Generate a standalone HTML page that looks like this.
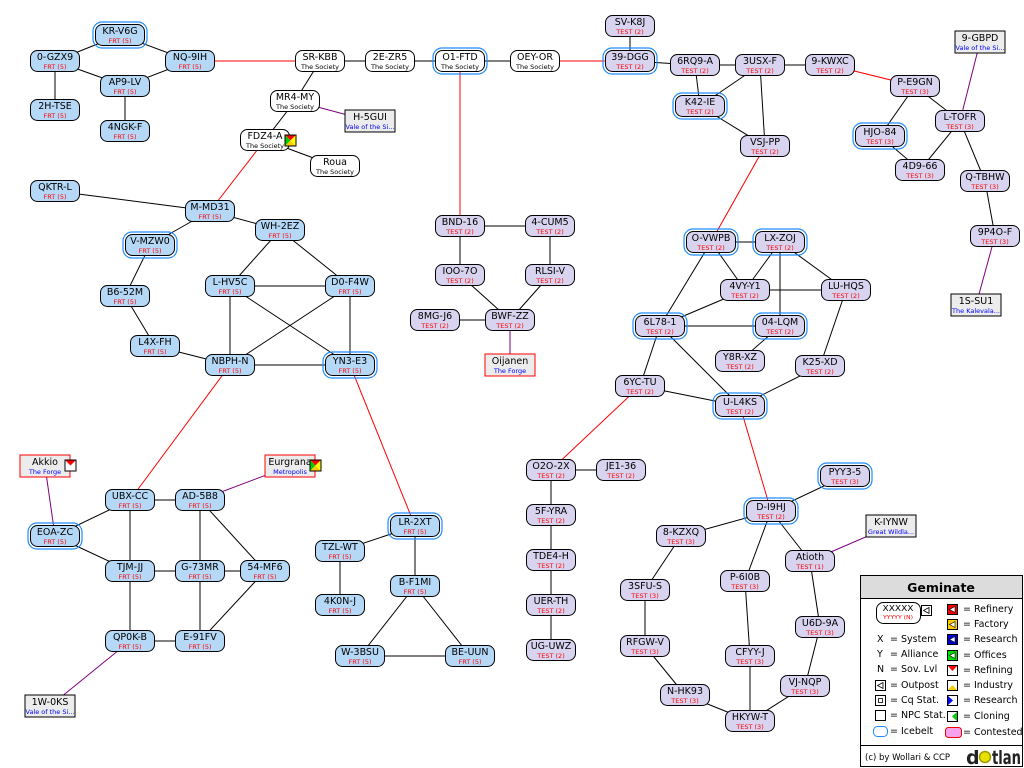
<!DOCTYPE html>
<html><head><meta charset="utf-8"><style>
html,body{margin:0;padding:0;background:#fff;width:1024px;height:768px;overflow:hidden}
svg{display:block;font-family:"DejaVu Sans","Liberation Sans",sans-serif}
.e line{stroke:#000;stroke-width:1}
.r line{stroke:#f00;stroke-width:1}
.p line{stroke:#800080;stroke-width:1}
.n rect.b{x:-24.5px;y:-10.5px;width:49px;height:21px;rx:7px;stroke:#000;stroke-width:1}
.n rect.i{x:-27px;y:-13px;width:54px;height:26px;rx:9px;fill:none;stroke:#1e8cff;stroke-width:1.2}
.f rect.b{fill:#b5d8f7}
.t rect.b{fill:#d8d3ef}
.w rect.b{fill:#fff}
.n text{text-anchor:middle;font-size:9.5px;fill:#000}
.n text.s{font-size:6.5px;fill:#f00}
.w text.s{fill:#000}
.x rect{x:-25px;y:-11px;width:50px;height:22px;fill:#ececec;stroke:#000;stroke-width:1}
.x.rd rect{stroke:#f00}
.x text{text-anchor:middle;font-size:9.5px;fill:#000}
.x text.s{font-size:6.5px;fill:#00f}
.lg text{font-size:9.5px;fill:#000}
</style></head><body>
<svg width="1024" height="768" viewBox="0 0 1024 768" xmlns="http://www.w3.org/2000/svg">
<g class="e">
<line x1="120" y1="35" x2="55" y2="61"/><line x1="120" y1="35" x2="190" y2="61"/>
<line x1="55" y1="61" x2="125" y2="86"/><line x1="190" y1="61" x2="125" y2="86"/>
<line x1="55" y1="61" x2="55" y2="110"/><line x1="125" y1="86" x2="125" y2="131"/>
<line x1="320" y1="61" x2="390" y2="61"/><line x1="390" y1="61" x2="460" y2="61"/><line x1="460" y1="61" x2="535" y2="61"/>
<line x1="320" y1="61" x2="295" y2="101"/><line x1="295" y1="101" x2="265" y2="140"/><line x1="265" y1="140" x2="335" y2="166"/>
<line x1="55" y1="191" x2="210" y2="211"/><line x1="210" y1="211" x2="150" y2="245"/><line x1="210" y1="211" x2="280" y2="230"/>
<line x1="280" y1="230" x2="230" y2="286"/><line x1="280" y1="230" x2="350" y2="286"/>
<line x1="150" y1="245" x2="125" y2="296"/><line x1="125" y1="296" x2="155" y2="346"/><line x1="155" y1="346" x2="230" y2="365"/>
<line x1="230" y1="286" x2="350" y2="286"/><line x1="230" y1="286" x2="230" y2="365"/><line x1="230" y1="286" x2="350" y2="365"/>
<line x1="350" y1="286" x2="230" y2="365"/><line x1="350" y1="286" x2="350" y2="365"/><line x1="230" y1="365" x2="350" y2="365"/>
<line x1="130" y1="500" x2="200" y2="500"/><line x1="130" y1="500" x2="55" y2="536"/><line x1="55" y1="536" x2="130" y2="571"/>
<line x1="130" y1="500" x2="130" y2="571"/><line x1="200" y1="500" x2="200" y2="571"/><line x1="200" y1="500" x2="265" y2="571"/>
<line x1="130" y1="571" x2="200" y2="571"/><line x1="200" y1="571" x2="265" y2="571"/><line x1="130" y1="571" x2="130" y2="641"/>
<line x1="200" y1="571" x2="200" y2="641"/><line x1="130" y1="641" x2="200" y2="641"/><line x1="265" y1="571" x2="200" y2="641"/>
<line x1="415" y1="526" x2="340" y2="551"/><line x1="415" y1="526" x2="415" y2="586"/><line x1="340" y1="551" x2="340" y2="605"/>
<line x1="415" y1="586" x2="360" y2="656"/><line x1="415" y1="586" x2="470" y2="656"/><line x1="360" y1="656" x2="470" y2="656"/>
<line x1="460" y1="226" x2="550" y2="226"/><line x1="460" y1="226" x2="460" y2="275"/><line x1="550" y1="226" x2="550" y2="275"/>
<line x1="460" y1="275" x2="510" y2="320"/><line x1="550" y1="275" x2="510" y2="320"/><line x1="435" y1="320" x2="510" y2="320"/>
<line x1="630" y1="26" x2="630" y2="61"/><line x1="630" y1="61" x2="695" y2="65"/><line x1="695" y1="65" x2="760" y2="65"/>
<line x1="760" y1="65" x2="830" y2="65"/><line x1="695" y1="65" x2="700" y2="106"/><line x1="760" y1="65" x2="700" y2="106"/>
<line x1="760" y1="65" x2="765" y2="146"/><line x1="700" y1="106" x2="765" y2="146"/>
<line x1="915" y1="86" x2="960" y2="121"/><line x1="915" y1="86" x2="880" y2="136"/><line x1="880" y1="136" x2="920" y2="170"/>
<line x1="960" y1="121" x2="920" y2="170"/><line x1="960" y1="121" x2="985" y2="181"/><line x1="985" y1="181" x2="995" y2="236"/>
<line x1="711" y1="242" x2="780" y2="242"/><line x1="711" y1="242" x2="745" y2="290"/><line x1="711" y1="242" x2="660" y2="326"/>
<line x1="780" y1="242" x2="745" y2="290"/><line x1="780" y1="242" x2="780" y2="326"/><line x1="780" y1="242" x2="846" y2="290"/>
<line x1="745" y1="290" x2="846" y2="290"/><line x1="745" y1="290" x2="660" y2="326"/><line x1="660" y1="326" x2="780" y2="326"/>
<line x1="780" y1="326" x2="740" y2="361"/><line x1="846" y1="290" x2="820" y2="366"/><line x1="820" y1="366" x2="740" y2="406"/>
<line x1="660" y1="326" x2="640" y2="386"/><line x1="660" y1="326" x2="740" y2="406"/><line x1="640" y1="386" x2="740" y2="406"/>
<line x1="551" y1="470" x2="621" y2="470"/><line x1="551" y1="470" x2="551" y2="650"/>
<line x1="771" y1="511" x2="845" y2="476"/><line x1="771" y1="511" x2="681" y2="536"/><line x1="771" y1="511" x2="745" y2="581"/>
<line x1="771" y1="511" x2="810" y2="561"/><line x1="681" y1="536" x2="645" y2="590"/><line x1="645" y1="590" x2="645" y2="646"/>
<line x1="645" y1="646" x2="685" y2="695"/><line x1="685" y1="695" x2="750" y2="721"/><line x1="745" y1="581" x2="750" y2="656"/>
<line x1="750" y1="656" x2="750" y2="721"/><line x1="810" y1="561" x2="820" y2="627"/><line x1="820" y1="627" x2="805" y2="686"/>
<line x1="805" y1="686" x2="750" y2="721"/>
</g>
<g class="r">
<line x1="190" y1="61" x2="320" y2="61"/><line x1="535" y1="61" x2="630" y2="61"/><line x1="460" y1="61" x2="460" y2="226"/>
<line x1="830" y1="65" x2="915" y2="86"/><line x1="765" y1="146" x2="711" y2="242"/><line x1="265" y1="140" x2="210" y2="211"/>
<line x1="230" y1="365" x2="130" y2="500"/><line x1="350" y1="365" x2="415" y2="526"/><line x1="640" y1="386" x2="551" y2="470"/>
<line x1="740" y1="406" x2="771" y2="511"/>
</g>
<g class="p">
<line x1="295" y1="101" x2="370" y2="121"/><line x1="510" y1="320" x2="510" y2="365"/><line x1="45" y1="466" x2="55" y2="536"/>
<line x1="290" y1="466" x2="200" y2="500"/><line x1="130" y1="641" x2="50" y2="706"/><line x1="960" y1="121" x2="980" y2="42"/>
<line x1="995" y1="236" x2="976" y2="305"/><line x1="810" y1="561" x2="891" y2="526"/>
</g>

<g class="n f" transform="translate(120,35)"><rect class="i"/><rect class="b"/><text y="-1">KR-V6G</text><text class="s" y="8">FRT (5)</text></g>
<g class="n f" transform="translate(55,61)"><rect class="b"/><text y="-1">0-GZX9</text><text class="s" y="8">FRT (5)</text></g>
<g class="n f" transform="translate(190,61)"><rect class="b"/><text y="-1">NQ-9IH</text><text class="s" y="8">FRT (5)</text></g>
<g class="n f" transform="translate(125,86)"><rect class="b"/><text y="-1">AP9-LV</text><text class="s" y="8">FRT (5)</text></g>
<g class="n f" transform="translate(55,110)"><rect class="b"/><text y="-1">2H-TSE</text><text class="s" y="8">FRT (5)</text></g>
<g class="n f" transform="translate(125,131)"><rect class="b"/><text y="-1">4NGK-F</text><text class="s" y="8">FRT (5)</text></g>
<g class="n f" transform="translate(55,191)"><rect class="b"/><text y="-1">QKTR-L</text><text class="s" y="8">FRT (5)</text></g>
<g class="n f" transform="translate(210,211)"><rect class="b"/><text y="-1">M-MD31</text><text class="s" y="8">FRT (5)</text></g>
<g class="n f" transform="translate(280,230)"><rect class="b"/><text y="-1">WH-2EZ</text><text class="s" y="8">FRT (5)</text></g>
<g class="n f" transform="translate(150,245)"><rect class="i"/><rect class="b"/><text y="-1">V-MZW0</text><text class="s" y="8">FRT (5)</text></g>
<g class="n f" transform="translate(125,296)"><rect class="b"/><text y="-1">B6-52M</text><text class="s" y="8">FRT (5)</text></g>
<g class="n f" transform="translate(230,286)"><rect class="b"/><text y="-1">L-HV5C</text><text class="s" y="8">FRT (5)</text></g>
<g class="n f" transform="translate(350,286)"><rect class="b"/><text y="-1">D0-F4W</text><text class="s" y="8">FRT (5)</text></g>
<g class="n f" transform="translate(155,346)"><rect class="b"/><text y="-1">L4X-FH</text><text class="s" y="8">FRT (5)</text></g>
<g class="n f" transform="translate(230,365)"><rect class="b"/><text y="-1">NBPH-N</text><text class="s" y="8">FRT (5)</text></g>
<g class="n f" transform="translate(350,365)"><rect class="i"/><rect class="b"/><text y="-1">YN3-E3</text><text class="s" y="8">FRT (5)</text></g>
<g class="n f" transform="translate(130,500)"><rect class="b"/><text y="-1">UBX-CC</text><text class="s" y="8">FRT (5)</text></g>
<g class="n f" transform="translate(200,500)"><rect class="b"/><text y="-1">AD-5B8</text><text class="s" y="8">FRT (5)</text></g>
<g class="n f" transform="translate(55,536)"><rect class="i"/><rect class="b"/><text y="-1">EOA-ZC</text><text class="s" y="8">FRT (5)</text></g>
<g class="n f" transform="translate(130,571)"><rect class="b"/><text y="-1">TJM-JJ</text><text class="s" y="8">FRT (5)</text></g>
<g class="n f" transform="translate(200,571)"><rect class="b"/><text y="-1">G-73MR</text><text class="s" y="8">FRT (5)</text></g>
<g class="n f" transform="translate(265,571)"><rect class="b"/><text y="-1">54-MF6</text><text class="s" y="8">FRT (5)</text></g>
<g class="n f" transform="translate(130,641)"><rect class="b"/><text y="-1">QP0K-B</text><text class="s" y="8">FRT (5)</text></g>
<g class="n f" transform="translate(200,641)"><rect class="b"/><text y="-1">E-91FV</text><text class="s" y="8">FRT (5)</text></g>
<g class="n f" transform="translate(415,526)"><rect class="i"/><rect class="b"/><text y="-1">LR-2XT</text><text class="s" y="8">FRT (5)</text></g>
<g class="n f" transform="translate(340,551)"><rect class="b"/><text y="-1">TZL-WT</text><text class="s" y="8">FRT (5)</text></g>
<g class="n f" transform="translate(340,605)"><rect class="b"/><text y="-1">4K0N-J</text><text class="s" y="8">FRT (5)</text></g>
<g class="n f" transform="translate(415,586)"><rect class="b"/><text y="-1">B-F1MI</text><text class="s" y="8">FRT (5)</text></g>
<g class="n f" transform="translate(360,656)"><rect class="b"/><text y="-1">W-3BSU</text><text class="s" y="8">FRT (5)</text></g>
<g class="n f" transform="translate(470,656)"><rect class="b"/><text y="-1">BE-UUN</text><text class="s" y="8">FRT (5)</text></g>

<g class="n w" transform="translate(320,61)"><rect class="b"/><text y="-1">SR-KBB</text><text class="s" y="8">The Society</text></g>
<g class="n w" transform="translate(390,61)"><rect class="b"/><text y="-1">2E-ZR5</text><text class="s" y="8">The Society</text></g>
<g class="n w" transform="translate(460,61)"><rect class="i"/><rect class="b"/><text y="-1">O1-FTD</text><text class="s" y="8">The Society</text></g>
<g class="n w" transform="translate(535,61)"><rect class="b"/><text y="-1">OEY-OR</text><text class="s" y="8">The Society</text></g>
<g class="n w" transform="translate(295,101)"><rect class="b"/><text y="-1">MR4-MY</text><text class="s" y="8">The Society</text></g>
<g class="n w" transform="translate(265,140)"><rect class="b"/><text y="-1">FDZ4-A</text><text class="s" y="8">The Society</text></g>
<g class="n w" transform="translate(335,166)"><rect class="b"/><text y="-1">Roua</text><text class="s" y="8">The Society</text></g>
<g transform="translate(285,135)"><rect x="0" y="0" width="11" height="11" fill="#fff" stroke="#000"/><polygon points="0.5,0.5 10.5,0.5 5.5,5.5" fill="#f00"/><polygon points="0.5,0.5 5.5,5.5 0.5,10.5" fill="#0c0"/><polygon points="0.5,10.5 10.5,10.5 5.5,5.5" fill="#fc0"/><polygon points="10.5,0.5 10.5,10.5 5.5,5.5" fill="#ff0"/></g>

<g class="n t" transform="translate(630,26)"><rect class="b"/><text y="-1">SV-K8J</text><text class="s" y="8">TEST (2)</text></g>
<g class="n t" transform="translate(630,61)"><rect class="i"/><rect class="b"/><text y="-1">39-DGG</text><text class="s" y="8">TEST (2)</text></g>
<g class="n t" transform="translate(695,65)"><rect class="b"/><text y="-1">6RQ9-A</text><text class="s" y="8">TEST (2)</text></g>
<g class="n t" transform="translate(760,65)"><rect class="b"/><text y="-1">3USX-F</text><text class="s" y="8">TEST (2)</text></g>
<g class="n t" transform="translate(830,65)"><rect class="b"/><text y="-1">9-KWXC</text><text class="s" y="8">TEST (2)</text></g>
<g class="n t" transform="translate(700,106)"><rect class="i"/><rect class="b"/><text y="-1">K42-IE</text><text class="s" y="8">TEST (2)</text></g>
<g class="n t" transform="translate(765,146)"><rect class="b"/><text y="-1">VSJ-PP</text><text class="s" y="8">TEST (2)</text></g>
<g class="n t" transform="translate(915,86)"><rect class="b"/><text y="-1">P-E9GN</text><text class="s" y="8">TEST (3)</text></g>
<g class="n t" transform="translate(960,121)"><rect class="b"/><text y="-1">L-TOFR</text><text class="s" y="8">TEST (3)</text></g>
<g class="n t" transform="translate(880,136)"><rect class="i"/><rect class="b"/><text y="-1">HJO-84</text><text class="s" y="8">TEST (3)</text></g>
<g class="n t" transform="translate(920,170)"><rect class="b"/><text y="-1">4D9-66</text><text class="s" y="8">TEST (3)</text></g>
<g class="n t" transform="translate(985,181)"><rect class="b"/><text y="-1">Q-TBHW</text><text class="s" y="8">TEST (3)</text></g>
<g class="n t" transform="translate(995,236)"><rect class="b"/><text y="-1">9P4O-F</text><text class="s" y="8">TEST (3)</text></g>
<g class="n t" transform="translate(460,226)"><rect class="b"/><text y="-1">BND-16</text><text class="s" y="8">TEST (2)</text></g>
<g class="n t" transform="translate(550,226)"><rect class="b"/><text y="-1">4-CUM5</text><text class="s" y="8">TEST (2)</text></g>
<g class="n t" transform="translate(460,275)"><rect class="b"/><text y="-1">IOO-7O</text><text class="s" y="8">TEST (2)</text></g>
<g class="n t" transform="translate(550,275)"><rect class="b"/><text y="-1">RLSI-V</text><text class="s" y="8">TEST (2)</text></g>
<g class="n t" transform="translate(435,320)"><rect class="b"/><text y="-1">8MG-J6</text><text class="s" y="8">TEST (2)</text></g>
<g class="n t" transform="translate(510,320)"><rect class="b"/><text y="-1">BWF-ZZ</text><text class="s" y="8">TEST (2)</text></g>
<g class="n t" transform="translate(711,242)"><rect class="i"/><rect class="b"/><text y="-1">O-VWPB</text><text class="s" y="8">TEST (2)</text></g>
<g class="n t" transform="translate(780,242)"><rect class="i"/><rect class="b"/><text y="-1">LX-ZOJ</text><text class="s" y="8">TEST (2)</text></g>
<g class="n t" transform="translate(745,290)"><rect class="b"/><text y="-1">4VY-Y1</text><text class="s" y="8">TEST (2)</text></g>
<g class="n t" transform="translate(846,290)"><rect class="b"/><text y="-1">LU-HQS</text><text class="s" y="8">TEST (2)</text></g>
<g class="n t" transform="translate(660,326)"><rect class="i"/><rect class="b"/><text y="-1">6L78-1</text><text class="s" y="8">TEST (2)</text></g>
<g class="n t" transform="translate(780,326)"><rect class="i"/><rect class="b"/><text y="-1">04-LQM</text><text class="s" y="8">TEST (2)</text></g>
<g class="n t" transform="translate(740,361)"><rect class="b"/><text y="-1">Y8R-XZ</text><text class="s" y="8">TEST (2)</text></g>
<g class="n t" transform="translate(820,366)"><rect class="b"/><text y="-1">K25-XD</text><text class="s" y="8">TEST (2)</text></g>
<g class="n t" transform="translate(640,386)"><rect class="b"/><text y="-1">6YC-TU</text><text class="s" y="8">TEST (2)</text></g>
<g class="n t" transform="translate(740,406)"><rect class="i"/><rect class="b"/><text y="-1">U-L4KS</text><text class="s" y="8">TEST (2)</text></g>
<g class="n t" transform="translate(551,470)"><rect class="b"/><text y="-1">O2O-2X</text><text class="s" y="8">TEST (2)</text></g>
<g class="n t" transform="translate(621,470)"><rect class="b"/><text y="-1">JE1-36</text><text class="s" y="8">TEST (2)</text></g>
<g class="n t" transform="translate(551,515)"><rect class="b"/><text y="-1">5F-YRA</text><text class="s" y="8">TEST (2)</text></g>
<g class="n t" transform="translate(551,560)"><rect class="b"/><text y="-1">TDE4-H</text><text class="s" y="8">TEST (2)</text></g>
<g class="n t" transform="translate(551,605)"><rect class="b"/><text y="-1">UER-TH</text><text class="s" y="8">TEST (2)</text></g>
<g class="n t" transform="translate(551,650)"><rect class="b"/><text y="-1">UG-UWZ</text><text class="s" y="8">TEST (2)</text></g>
<g class="n t" transform="translate(845,476)"><rect class="i"/><rect class="b"/><text y="-1">PYY3-5</text><text class="s" y="8">TEST (3)</text></g>
<g class="n t" transform="translate(771,511)"><rect class="i"/><rect class="b"/><text y="-1">D-I9HJ</text><text class="s" y="8">TEST (2)</text></g>
<g class="n t" transform="translate(681,536)"><rect class="b"/><text y="-1">8-KZXQ</text><text class="s" y="8">TEST (3)</text></g>
<g class="n t" transform="translate(810,561)"><rect class="b"/><text y="-1">Atioth</text><text class="s" y="8">TEST (1)</text></g>
<g class="n t" transform="translate(645,590)"><rect class="b"/><text y="-1">3SFU-S</text><text class="s" y="8">TEST (3)</text></g>
<g class="n t" transform="translate(745,581)"><rect class="b"/><text y="-1">P-6I0B</text><text class="s" y="8">TEST (3)</text></g>
<g class="n t" transform="translate(820,627)"><rect class="b"/><text y="-1">U6D-9A</text><text class="s" y="8">TEST (3)</text></g>
<g class="n t" transform="translate(645,646)"><rect class="b"/><text y="-1">RFGW-V</text><text class="s" y="8">TEST (3)</text></g>
<g class="n t" transform="translate(750,656)"><rect class="b"/><text y="-1">CFYY-J</text><text class="s" y="8">TEST (3)</text></g>
<g class="n t" transform="translate(805,686)"><rect class="b"/><text y="-1">VJ-NQP</text><text class="s" y="8">TEST (3)</text></g>
<g class="n t" transform="translate(685,695)"><rect class="b"/><text y="-1">N-HK93</text><text class="s" y="8">TEST (3)</text></g>
<g class="n t" transform="translate(750,721)"><rect class="b"/><text y="-1">HKYW-T</text><text class="s" y="8">TEST (3)</text></g>

<g class="x" transform="translate(370,121)"><rect/><text y="-1">H-5GUI</text><text class="s" y="8">Vale of the Si...</text></g>
<g class="x rd" transform="translate(45,466)"><rect/><text y="-1">Akkio</text><text class="s" y="8">The Forge</text></g>
<g transform="translate(65,460)"><rect width="11" height="11" fill="#fff" stroke="#000"/><polygon points="0.5,0.5 10.5,0.5 5.5,5.5" fill="#f00"/></g>
<g class="x rd" transform="translate(290,466)"><rect/><text y="-1">Eurgrana</text><text class="s" y="8">Metropolis</text></g>
<g transform="translate(310,460)"><rect width="11" height="11" fill="#fff" stroke="#000"/><polygon points="0.5,0.5 10.5,0.5 5.5,5.5" fill="#f00"/><polygon points="0.5,0.5 5.5,5.5 0.5,10.5" fill="#0c0"/><polygon points="0.5,10.5 10.5,10.5 5.5,5.5" fill="#fc0"/><polygon points="10.5,0.5 10.5,10.5 5.5,5.5" fill="#ff0"/></g>
<g class="x" transform="translate(50,706)"><rect/><text y="-1">1W-0KS</text><text class="s" y="8">Vale of the Si...</text></g>
<g class="x rd" transform="translate(510,365)"><rect/><text y="-1">Oijanen</text><text class="s" y="8">The Forge</text></g>
<g class="x" transform="translate(980,42)"><rect/><text y="-1">9-GBPD</text><text class="s" y="8">Vale of the Si...</text></g>
<g class="x" transform="translate(976,305)"><rect/><text y="-1">1S-SU1</text><text class="s" y="8">The Kalevala...</text></g>
<g class="x" transform="translate(891,526)"><rect/><text y="-1">K-IYNW</text><text class="s" y="8">Great Wildla...</text></g>

<g class="lg">
<rect x="860.5" y="575.5" width="162" height="191" fill="#fff" stroke="#000"/>
<rect x="861" y="576" width="161" height="22" fill="#dcdcdc"/>
<line x1="860.5" y1="598.5" x2="1022.5" y2="598.5" stroke="#000"/>
<text x="941" y="592" text-anchor="middle" style="font-weight:bold;font-size:12.5px">Geminate</text>
<rect x="876.5" y="602.5" width="44" height="21" rx="7" fill="#fff" stroke="#000"/>
<text x="898" y="611" text-anchor="middle" style="font-size:7.5px" textLength="31" lengthAdjust="spacingAndGlyphs">XXXXX</text>
<text x="898" y="619" text-anchor="middle" style="font-size:5.5px;fill:#f00" textLength="30" lengthAdjust="spacingAndGlyphs">YYYYY (N)</text>
<rect x="921.5" y="605.5" width="10" height="10" fill="#fff" stroke="#000"/><polygon points="929,607.5 923.5,610.5 929,613.5" fill="none" stroke="#000" stroke-width="0.8"/>
<text x="877" y="642">X</text><text x="890" y="642">= System</text>
<text x="877" y="657">Y</text><text x="890" y="657">= Alliance</text>
<text x="877" y="672">N</text><text x="890" y="672">= Sov. Lvl</text>
<rect x="875.5" y="680.5" width="10" height="10" fill="#fff" stroke="#000"/><polygon points="883,682.5 877.5,685.5 883,688.5" fill="none" stroke="#000" stroke-width="0.8"/>
<text x="890" y="688">= Outpost</text>
<rect x="875.5" y="695.5" width="10" height="10" fill="#fff" stroke="#000"/><rect x="878.5" y="698.5" width="4" height="4" fill="none" stroke="#000" stroke-width="0.8"/>
<text x="890" y="703">= Cq Stat.</text>
<rect x="875.5" y="710.5" width="10" height="10" fill="#fff" stroke="#000"/>
<text x="890" y="718">= NPC Stat.</text>
<rect x="873.5" y="726.5" width="14" height="10" rx="4" fill="#fff" stroke="#1e8cff"/>
<text x="890" y="734">= Icebelt</text>
<rect x="947.5" y="604.5" width="10" height="10" fill="#e00" stroke="#000"/><polygon points="955,606.5 949.5,609.5 955,612.5" fill="#fff" stroke="#000" stroke-width="0.6"/>
<text x="963" y="612">= Refinery</text>
<rect x="947.5" y="619.5" width="10" height="10" fill="#fc0" stroke="#000"/><polygon points="955,621.5 949.5,624.5 955,627.5" fill="#fff" stroke="#000" stroke-width="0.6"/>
<text x="963" y="627">= Factory</text>
<rect x="947.5" y="634.5" width="10" height="10" fill="#00c" stroke="#000"/><polygon points="955,636.5 949.5,639.5 955,642.5" fill="#fff" stroke="#000" stroke-width="0.6"/>
<text x="963" y="642">= Research</text>
<rect x="947.5" y="650.5" width="10" height="10" fill="#0d0" stroke="#000"/><polygon points="955,652.5 949.5,655.5 955,658.5" fill="#fff" stroke="#000" stroke-width="0.6"/>
<text x="963" y="658">= Offices</text>
<rect x="947.5" y="665.5" width="10" height="10" fill="#fff" stroke="#000"/><polygon points="948,666 957,666 952.5,671" fill="#f00"/>
<text x="963" y="673">= Refining</text>
<rect x="947.5" y="680.5" width="10" height="10" fill="#fff" stroke="#000"/><polygon points="948,690 957,690 952.5,685" fill="#fc0"/>
<text x="963" y="688">= Industry</text>
<rect x="947.5" y="695.5" width="10" height="10" fill="#fff" stroke="#000"/><polygon points="948,696 948,705 953,700.5" fill="#00f"/>
<text x="963" y="703">= Research</text>
<rect x="947.5" y="711.5" width="10" height="10" fill="#fff" stroke="#000"/><polygon points="957,712 957,721 952,716.5" fill="#0c0"/>
<text x="963" y="719">= Cloning</text>
<rect x="945.5" y="727.5" width="16" height="10" rx="3" fill="#f5a3ee" stroke="#e00"/>
<text x="963" y="735">= Contested</text>
<line x1="860.5" y1="745.5" x2="1022.5" y2="745.5" stroke="#000"/>
<text x="865" y="760" style="font-size:8.5px">(c) by Wollari &amp; CCP</text>
<text x="966" y="764" style="font-size:19px;font-weight:bold;fill:#222">d</text>
<circle cx="985" cy="757" r="5.5" fill="#e8e000" stroke="#a09800" stroke-width="1.5"/>
<text x="992" y="764" style="font-size:19px;font-weight:bold;fill:#222" textLength="29" lengthAdjust="spacingAndGlyphs">tlan</text>
</g>
</svg>
</body></html>
